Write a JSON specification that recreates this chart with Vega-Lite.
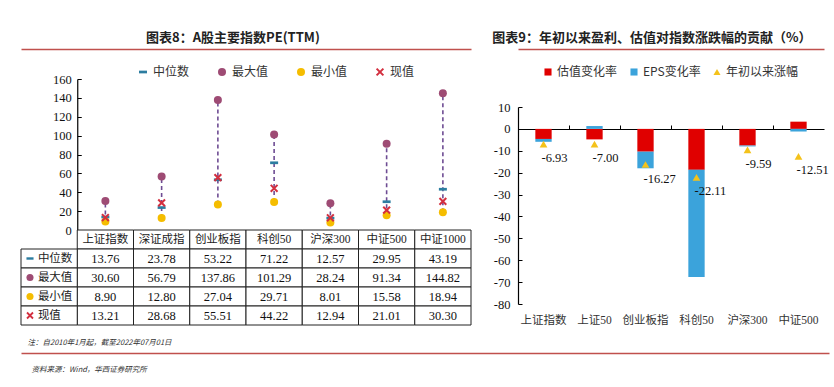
{
  "$schema": "https://vega.github.io/schema/vega-lite/v6.json",
  "background": "white",
  "padding": {"left": 20, "top": 32, "right": 2, "bottom": 2},
  "datasets": {
    "pe": [
      {"index": "上证指数", "中位数": 13.76, "最大值": 30.60, "最小值": 8.90, "现值": 13.21},
      {"index": "深证成指", "中位数": 23.78, "最大值": 56.79, "最小值": 12.80, "现值": 28.68},
      {"index": "创业板指", "中位数": 53.22, "最大值": 137.86, "最小值": 27.04, "现值": 55.51},
      {"index": "科创50", "中位数": 71.22, "最大值": 101.29, "最小值": 29.71, "现值": 44.22},
      {"index": "沪深300", "中位数": 12.57, "最大值": 28.24, "最小值": 8.01, "现值": 12.94},
      {"index": "中证500", "中位数": 29.95, "最大值": 91.34, "最小值": 15.58, "现值": 21.01},
      {"index": "中证1000", "中位数": 43.19, "最大值": 144.82, "最小值": 18.94, "现值": 30.30}
    ],
    "contrib": [
      {"index": "上证指数", "估值变化率": -4.6, "EPS变化率": -1.3, "年初以来涨幅": -6.93},
      {"index": "上证50", "估值变化率": -4.8, "EPS变化率": 1.3, "年初以来涨幅": -7.00},
      {"index": "创业板指", "估值变化率": -10.4, "EPS变化率": -7.6, "年初以来涨幅": -16.27},
      {"index": "科创50", "估值变化率": -18.7, "EPS变化率": -49.0, "年初以来涨幅": -22.11},
      {"index": "沪深300", "估值变化率": -7.6, "EPS变化率": -0.4, "年初以来涨幅": -9.59},
      {"index": "中证500", "估值变化率": 3.3, "EPS变化率": -1.2, "年初以来涨幅": -12.51}
    ]
  },
  "config": {
    "view": {"stroke": null},
    "font": "Noto Sans CJK SC",
    "locale": {"number": {"decimal": ".", "thousands": ",", "grouping": [3], "currency": ["", ""], "minus": "-"}},
    "axis": {"grid": false, "domainColor": "#000000", "tickColor": "#000000", "labelColor": "#111111", "labelFont": "Liberation Serif", "labelFontSize": 12.5},
    "title": {"font": "Noto Sans CJK SC", "fontSize": 13, "fontWeight": "bold", "color": "#222222"},
    "legend": {"labelFont": "Noto Sans CJK SC", "labelFontSize": 12, "labelColor": "#333333"}
  },
  "resolve": {
    "scale": {"color": "independent", "shape": "independent", "fill": "independent", "stroke": "independent"},
    "legend": {"color": "independent", "shape": "independent", "fill": "independent", "stroke": "independent"}
  },
  "spacing": 12,
  "vconcat": [
    {
      "resolve": {
        "scale": {"color": "independent", "shape": "independent", "fill": "independent", "stroke": "independent"},
        "legend": {"color": "independent", "shape": "independent", "fill": "independent", "stroke": "independent"}
      },
      "spacing": 20,
      "hconcat": [
        {
          "resolve": {
            "scale": {"color": "independent", "shape": "independent", "fill": "independent", "stroke": "independent"},
            "legend": {"color": "independent", "shape": "independent", "fill": "independent", "stroke": "independent"}
          },
          "vconcat": [
            {
              "width": 450,
              "height": 151,
              "data": {"name": "pe"},
              "title": {"text": "图表8：A股主要指数PE(TTM)", "anchor": "start", "dx": 125, "offset": 4},
              "layer": [
                {
                  "mark": {"type": "rule", "strokeDash": [4, 3], "strokeWidth": 1.6, "color": "#6E4C93"},
                  "encoding": {
                    "x": {"field": "index", "type": "nominal", "sort": null,
                      "scale": {"type": "band", "domain": ["_h", "上证指数", "深证成指", "创业板指", "科创50", "沪深300", "中证500", "中证1000"], "paddingInner": 0, "paddingOuter": 0},
                      "axis": {"orient": "top", "labels": false, "ticks": false, "title": null, "domainColor": "#C0504D", "domainWidth": 1.5, "offset": 30}},
                    "y": {"field": "最小值", "type": "quantitative", "scale": {"domain": [0, 160], "nice": false},
                      "axis": {"title": null, "values": [0, 20, 40, 60, 80, 100, 120, 140, 160], "tickSize": -4, "labelPadding": 10, "domainWidth": 1.2, "offset": -56.25}},
                    "y2": {"field": "最大值"}
                  }
                },
                {
                  "transform": [{"fold": ["中位数", "最大值", "最小值", "现值"], "as": ["系列", "值"]}],
                  "mark": {"type": "point", "filled": true, "size": 64, "strokeWidth": 0, "opacity": 1},
                  "encoding": {
                    "x": {"field": "index", "type": "nominal", "sort": null,
                      "scale": {"type": "band", "domain": ["_h", "上证指数", "深证成指", "创业板指", "科创50", "沪深300", "中证500", "中证1000"], "paddingInner": 0, "paddingOuter": 0},
                      "axis": {"orient": "top", "labels": false, "ticks": false, "title": null, "domainColor": "#C0504D", "domainWidth": 1.5, "offset": 30}},
                    "y": {"field": "值", "type": "quantitative",
                      "axis": {"title": null, "values": [0, 20, 40, 60, 80, 100, 120, 140, 160], "tickSize": -4, "labelPadding": 10, "domainWidth": 1.2, "offset": -56.25}},
                    "shape": {"field": "系列", "type": "nominal",
                      "scale": {"domain": ["中位数", "最大值", "最小值", "现值"], "range": ["M-1,-0.34H1V0.34H-1Z", "circle", "circle", "M-0.67,-1.03L1.03,0.67L0.67,1.03L-1.03,-0.67ZM-1.03,0.67L0.67,-1.03L1.03,-0.67L-0.67,1.03Z"]},
                      "legend": null},
                    "color": {"field": "系列", "type": "nominal",
                      "scale": {"domain": ["中位数", "最大值", "最小值", "现值"], "range": ["#2C7DA0", "#9E4B74", "#F5BD00", "#D32F3F"]},
                      "legend": {"orient": "none", "legendX": 116, "legendY": -13, "direction": "horizontal", "title": null, "columnPadding": 26, "symbolSize": 64, "symbolStrokeWidth": 0, "labelOffset": 4,
                        "encode": {"symbols": {"update": {"shape": {"signal": "datum.value === '中位数' ? 'M-1,-0.34H1V0.34H-1Z' : datum.value === '现值' ? 'M-0.67,-1.03L1.03,0.67L0.67,1.03L-1.03,-0.67ZM-1.03,0.67L0.67,-1.03L1.03,-0.67L-0.67,1.03Z' : 'circle'"}}}}}}
                  }
                }
              ]
            },
            {
              "width": 450,
              "height": 95,
              "data": {"name": "pe"},
              "layer": [
                {
                  "mark": {"type": "rect", "fill": "white", "stroke": "#222222", "strokeWidth": 1},
                  "encoding": {
                    "x": {"field": "index", "type": "nominal", "sort": null,
                      "scale": {"type": "band", "domain": ["_h", "上证指数", "深证成指", "创业板指", "科创50", "沪深300", "中证500", "中证1000"], "paddingInner": 0, "paddingOuter": 0}, "axis": null},
                    "y": {"datum": "hdr", "type": "nominal",
                      "scale": {"type": "band", "domain": ["hdr", "中位数", "最大值", "最小值", "现值"], "paddingInner": 0, "paddingOuter": 0}, "axis": null}
                  }
                },
                {
                  "transform": [{"fold": ["中位数", "最大值", "最小值", "现值"], "as": ["系列", "值"]}],
                  "mark": {"type": "rect", "fill": "white", "stroke": "#222222", "strokeWidth": 1},
                  "encoding": {
                    "x": {"field": "index", "type": "nominal", "sort": null, "axis": null},
                    "y": {"field": "系列", "type": "nominal", "axis": null}
                  }
                },
                {
                  "transform": [{"fold": ["中位数", "最大值", "最小值", "现值"], "as": ["系列", "值"]}, {"filter": "datum.index === '上证指数'"}],
                  "mark": {"type": "rect", "fill": "white", "stroke": "#222222", "strokeWidth": 1},
                  "encoding": {
                    "x": {"datum": "_h", "type": "nominal", "axis": null},
                    "y": {"field": "系列", "type": "nominal", "axis": null}
                  }
                },
                {
                  "transform": [{"fold": ["中位数", "最大值", "最小值", "现值"], "as": ["系列", "值"]}],
                  "mark": {"type": "text", "font": "Liberation Serif", "fontSize": 12.5, "color": "#111111"},
                  "encoding": {
                    "x": {"field": "index", "type": "nominal", "sort": null, "axis": null},
                    "y": {"field": "系列", "type": "nominal", "axis": null},
                    "text": {"field": "值", "type": "quantitative", "format": ".2f"}
                  }
                },
                {
                  "mark": {"type": "text", "font": "Liberation Serif, Noto Sans CJK SC", "fontSize": 11.5, "color": "#222222"},
                  "encoding": {
                    "x": {"field": "index", "type": "nominal", "sort": null, "axis": null},
                    "y": {"datum": "hdr", "type": "nominal", "axis": null},
                    "text": {"field": "index", "type": "nominal"}
                  }
                },
                {
                  "transform": [{"fold": ["中位数", "最大值", "最小值", "现值"], "as": ["系列", "值"]}, {"filter": "datum.index === '上证指数'"}],
                  "mark": {"type": "point", "filled": true, "size": 50, "strokeWidth": 0, "opacity": 1},
                  "encoding": {
                    "x": {"datum": "_h", "type": "nominal", "bandPosition": 0.16, "axis": null},
                    "y": {"field": "系列", "type": "nominal", "axis": null},
                    "shape": {"field": "系列", "type": "nominal",
                      "scale": {"domain": ["中位数", "最大值", "最小值", "现值"], "range": ["M-1,-0.34H1V0.34H-1Z", "circle", "circle", "M-0.67,-1.03L1.03,0.67L0.67,1.03L-1.03,-0.67ZM-1.03,0.67L0.67,-1.03L1.03,-0.67L-0.67,1.03Z"]}, "legend": null},
                    "color": {"field": "系列", "type": "nominal",
                      "scale": {"domain": ["中位数", "最大值", "最小值", "现值"], "range": ["#2C7DA0", "#9E4B74", "#F5BD00", "#D32F3F"]}, "legend": null}
                  }
                },
                {
                  "transform": [{"fold": ["中位数", "最大值", "最小值", "现值"], "as": ["系列", "值"]}, {"filter": "datum.index === '上证指数'"}],
                  "mark": {"type": "text", "align": "left", "font": "Noto Sans CJK SC", "fontSize": 11.5, "color": "#222222"},
                  "encoding": {
                    "x": {"datum": "_h", "type": "nominal", "bandPosition": 0.3, "axis": null},
                    "y": {"field": "系列", "type": "nominal", "axis": null},
                    "text": {"field": "系列", "type": "nominal"}
                  }
                }
              ]
            }
          ],
          "spacing": 0,
          "bounds": "flush"
        },
        {
          "resolve": {
            "scale": {"color": "independent", "shape": "independent", "fill": "independent", "stroke": "independent"},
            "legend": {"color": "independent", "shape": "independent", "fill": "independent", "stroke": "independent"}
          },
          "bounds": "flush",
          "spacing": 27,
          "vconcat": [
            {
              "width": 306,
              "height": 1,
              "data": {"values": [{}]},
              "mark": {"type": "point", "opacity": 0},
              "encoding": {}
            },
            {
              "width": 306,
              "height": 197,
              "data": {"name": "contrib"},
              "title": {"text": "图表9：年初以来盈利、估值对指数涨跌幅的贡献（%）", "anchor": "start", "dx": -1, "offset": 4},
              "resolve": {"axis": {"x": "independent"}},
              "layer": [
                {
                  "transform": [{"fold": ["估值变化率", "EPS变化率"], "as": ["系列", "值"]}],
                  "mark": {"type": "bar", "width": {"band": 0.32}},
                  "encoding": {
                    "x": {"field": "index", "type": "nominal", "sort": null,
                      "scale": {"type": "band", "domain": ["上证指数", "上证50", "创业板指", "科创50", "沪深300", "中证500"], "paddingInner": 0, "paddingOuter": 0},
                      "axis": {"title": null, "domain": false, "ticks": false, "labelAngle": 0, "labelFont": "Liberation Serif, Noto Sans CJK SC", "labelFontSize": 11.5, "labelPadding": 10, "labelColor": "#333333"}},
                    "y": {"field": "值", "type": "quantitative", "stack": "zero", "scale": {"domain": [-80, 10], "nice": false, "zero": false},
                      "axis": {"title": null, "values": [-80, -70, -60, -50, -40, -30, -20, -10, 0, 10], "tickSize": -4, "labelPadding": 12, "domainWidth": 1.2}},
                    "color": {"field": "系列", "type": "nominal",
                      "scale": {"domain": ["估值变化率", "EPS变化率", "年初以来涨幅"], "range": ["#E00000", "#3BA3DB", "#F4C21B"]},
                      "legend": {"orient": "none", "legendX": 24, "legendY": -41, "direction": "horizontal", "title": null, "columnPadding": 10, "symbolSize": 50, "labelOffset": 3,
                        "encode": {"symbols": {"update": {"shape": {"signal": "datum.value === '年初以来涨幅' ? 'triangle-up' : 'square'"}}}}}},
                    "order": {"field": "系列", "sort": "descending"}
                  }
                },
                {
                  "transform": [{"fold": ["年初以来涨幅"], "as": ["系列", "值"]}],
                  "mark": {"type": "point", "shape": "triangle-up", "filled": true, "size": 60, "opacity": 1},
                  "encoding": {
                    "x": {"field": "index", "type": "nominal", "sort": null,
                      "axis": {"orient": "bottom", "offset": -175, "labels": false, "ticks": true, "tickSize": -4, "bandPosition": 0, "tickExtra": true, "title": null, "domainWidth": 1.2}},
                    "y": {"field": "值", "type": "quantitative",
                      "axis": {"title": null, "values": [-80, -70, -60, -50, -40, -30, -20, -10, 0, 10], "tickSize": -4, "labelPadding": 12, "domainWidth": 1.2}},
                    "color": {"field": "系列", "type": "nominal",
                      "scale": {"domain": ["估值变化率", "EPS变化率", "年初以来涨幅"], "range": ["#E00000", "#3BA3DB", "#F4C21B"]},
                      "legend": {"orient": "none", "legendX": 24, "legendY": -41, "direction": "horizontal", "title": null, "columnPadding": 10, "symbolSize": 50, "labelOffset": 3,
                        "encode": {"symbols": {"update": {"shape": {"signal": "datum.value === '年初以来涨幅' ? 'triangle-up' : 'square'"}}}}}}
                  }
                },
                {
                  "mark": {"type": "text", "align": "left", "baseline": "middle", "dx": -2, "dy": 14, "font": "Liberation Serif", "fontSize": 12.5, "color": "#111111"},
                  "encoding": {
                    "x": {"field": "index", "type": "nominal", "sort": null,
                      "axis": {"orient": "top", "offset": 58, "labels": false, "ticks": false, "title": null, "domainColor": "#C0504D", "domainWidth": 1.5}},
                    "y": {"field": "年初以来涨幅", "type": "quantitative",
                      "axis": {"title": null, "values": [-80, -70, -60, -50, -40, -30, -20, -10, 0, 10], "tickSize": -4, "labelPadding": 12, "domainWidth": 1.2}},
                    "text": {"field": "年初以来涨幅", "type": "quantitative", "format": ".2f"}
                  }
                }
              ]
            }
          ]
        }
      ]
    },
    {
      "width": 808,
      "height": 1,
      "data": {"values": [{}]},
      "title": {"text": "注：自2010年1月起，截至2022年07月01日", "anchor": "start", "fontSize": 7.5, "fontStyle": "italic", "fontWeight": "normal", "offset": 6, "dx": 7, "color": "#333333"},
      "mark": {"type": "tick", "opacity": 0},
      "encoding": {
        "x": {"datum": 0, "type": "quantitative", "scale": {"domain": [0, 1]},
          "axis": {"orient": "bottom", "domainColor": "#C0504D", "domainWidth": 1.5, "labels": false, "ticks": false, "grid": false,
            "title": "资料来源：Wind，华西证券研究所", "titleAnchor": "start", "titleAlign": "left", "titleX": 10, "titleFont": "Noto Sans CJK SC", "titleFontSize": 7.5, "titleFontStyle": "italic", "titleFontWeight": "normal", "titlePadding": 12, "titleColor": "#333333"}}
      }
    }
  ]
}
